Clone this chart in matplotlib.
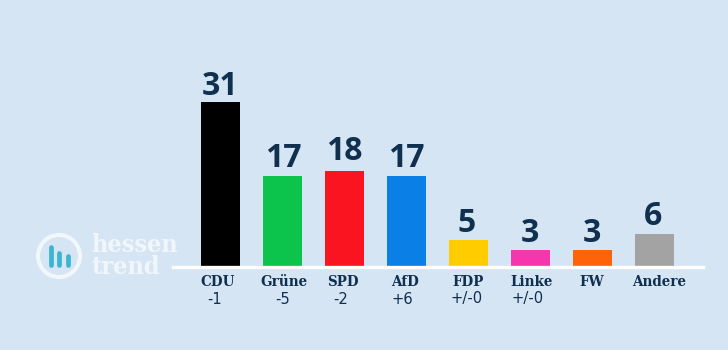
import matplotlib
matplotlib.use('Agg')
import matplotlib.pyplot as plt
from matplotlib.patches import Circle

parties = ['CDU', 'Grüne', 'SPD', 'AfD', 'FDP', 'Linke', 'FW', 'Andere']
values = [31, 17, 18, 17, 5, 3, 3, 6]
changes = ['-1', '-5', '-2', '+6', '+/-0', '+/-0', '', '']
colors = ['#000000', '#0cc44b', '#fa1420', '#0a80e6', '#ffcc00', '#f536ac', '#ff6308', '#a3a3a3']

bg = '#d6e5f3'
ink = '#10304f'
W, H = 728, 350

# bar layout in pixels of the reference
x0, dx = 220, 62
y0, dy = 266, 5.3

fig = plt.figure(figsize=(W/100, H/100), dpi=100, facecolor=bg)
ax = fig.add_axes([0, 0, 1, 1])
ax.set_xlim(-x0/dx, (W-x0)/dx)
ax.set_ylim(-(H-y0)/dy, y0/dy)
ax.axis('off')

xs = list(range(len(parties)))
ax.bar(xs, values, width=39/dx, color=colors, zorder=2)
ax.axhline(-0.2, xmin=173/W, xmax=703/W, color='white', lw=2.4, zorder=3)

# slight shifts of the texts against the bar centre, in pixels
label_shift = [-2, 2, -1, -1, 0, 2, 0, 5]
change_shift = [-5, 1, -3, -4, -1, -2, 0, 0]
value_shift = [0, 1, 0, 0, -1, 0, 0, -1]
value_gap = [7, 9, 11, 9, 8, 8, 8, 9]
px = 0.72  # points per pixel

for i in xs:
    ax.annotate(str(values[i]), (i, values[i]), xytext=(value_shift[i]*px, value_gap[i]*px), textcoords='offset points',
                ha='center', va='baseline', fontsize=23, fontweight='bold', family='Open Sans', color=ink, zorder=4)
    ax.annotate(parties[i], (i, 0), xytext=(label_shift[i]*px, -16*px), textcoords='offset points',
                ha='center', va='center', fontsize=10.8, fontweight='bold', family='DejaVu Serif', stretch='condensed', color=ink)
    if changes[i]:
        ax.annotate(changes[i], (i, 0), xytext=(change_shift[i]*px, -33*px), textcoords='offset points',
                    ha='center', va='center', fontsize=10.6, family='DejaVu Sans', color=ink)

# logo, pixel coordinates
lg = fig.add_axes([0, 0, 1, 1], facecolor='none')
lg.set_xlim(0, W)
lg.set_ylim(H, 0)
lg.axis('off')
lg.add_patch(Circle((59, 256), 21, fill=False, ec='#f2f7fb', lw=2.9))
for bx, top, bot in [(51, 247, 265), (59, 253, 265), (68, 256, 265)]:
    lg.plot([bx, bx], [top, bot], color='#3cb5cf', lw=3.4, solid_capstyle='round')
lg.text(91, 245, 'hessen', color='#f0f6fb', fontsize=18, fontweight='bold', family='DejaVu Serif', stretch='condensed', ha='left', va='center')
lg.text(91, 267, 'trend', color='#f0f6fb', fontsize=18, fontweight='bold', family='DejaVu Serif', stretch='condensed', ha='left', va='center')

fig.savefig('out.png', dpi=100, facecolor=bg)
